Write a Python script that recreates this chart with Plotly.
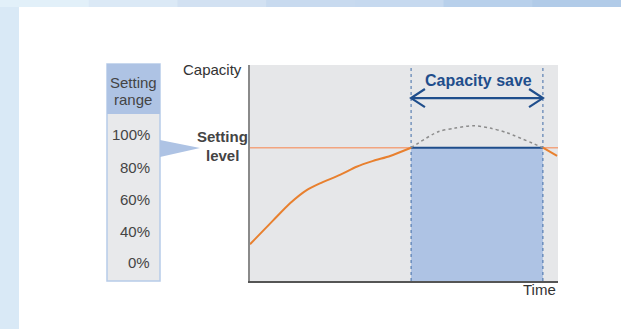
import plotly.graph_objects as go

W, H = 621, 329

# capacity curve before the saving period (time %, capacity %)
time_rise = [0, 7.6, 13, 18.4, 22.7, 29.2, 34.6, 40, 45.5, 52.3]
cap_rise = [17.0, 28.2, 36.0, 42.1, 45.2, 49.1, 52.9, 55.6, 57.9, 61.7]

# demand that would exceed the setting level (dotted)
time_demand = [52.3, 61.1, 66.6, 72.5, 77.9, 83.3, 95.1]
cap_demand = [61.7, 69.1, 70.8, 71.9, 70.8, 68.7, 61.7]

# curve after the saving period
time_tail = [95.1, 99.7]
cap_tail = [61.7, 57.9]

setting_level = 61.7
save_start, save_end = 52.3, 95.1
arrow_level = 84.7

range_labels = ["100%", "80%", "60%", "40%", "0%"]
range_label_y = [134, 167, 199, 231, 262]

FONT = "Liberation Sans, Arial, sans-serif"
DARK_BLUE = "#1f4e8c"
LIGHT_BLUE = "#aec3e4"
# colours of the page header strip, left to right
STRIP_COLORS = ["#e2f0f9", "#dbe9f6", "#d2e1f2", "#c8daef", "#c6d9ef", "#b8d0eb", "#b1cbe8"]


def px(x):
    return x / W


def py(y):
    return 1 - y / H


fig = go.Figure()

fig.add_trace(go.Scatter(
    x=[0, 100], y=[setting_level, setting_level], mode="lines",
    line={"color": "#f2a47f", "width": 1.5}, hoverinfo="skip",
))
fig.add_trace(go.Scatter(
    x=[save_start, save_end], y=[setting_level, setting_level], mode="lines",
    fill="tozeroy", fillcolor=LIGHT_BLUE,
    line={"color": DARK_BLUE, "width": 2}, hoverinfo="skip",
))
for xv in (save_start, save_end):
    fig.add_trace(go.Scatter(
        x=[xv, xv], y=[0, 100], mode="lines",
        line={"color": "#3f6ba8", "width": 1, "dash": "dot"}, hoverinfo="skip",
    ))
fig.add_trace(go.Scatter(
    x=time_demand, y=cap_demand, mode="lines",
    line={"color": "#8c8c8c", "width": 1.5, "dash": "dot", "shape": "spline", "smoothing": 0.8},
    hoverinfo="skip",
))
fig.add_trace(go.Scatter(
    x=time_rise, y=cap_rise, mode="lines",
    line={"color": "#e8802f", "width": 2, "shape": "spline", "smoothing": 0.6},
    hoverinfo="skip",
))
fig.add_trace(go.Scatter(
    x=time_tail, y=cap_tail, mode="lines",
    line={"color": "#e8802f", "width": 2}, hoverinfo="skip",
))

# double-headed arrow for the saving period
head_dx, head_dy = 4.5, 4.2
fig.add_trace(go.Scatter(
    x=[save_start, save_end], y=[arrow_level, arrow_level], mode="lines",
    line={"color": DARK_BLUE, "width": 2.2}, hoverinfo="skip",
))
fig.add_trace(go.Scatter(
    x=[save_start + head_dx, save_start, save_start + head_dx, None,
       save_end - head_dx, save_end, save_end - head_dx],
    y=[arrow_level + head_dy, arrow_level, arrow_level - head_dy, None,
       arrow_level + head_dy, arrow_level, arrow_level - head_dy],
    mode="lines", line={"color": DARK_BLUE, "width": 2.2}, hoverinfo="skip",
))

shapes = []
seg = 1 / len(STRIP_COLORS)
for i, col in enumerate(STRIP_COLORS):
    shapes.append({"type": "rect", "xref": "paper", "yref": "paper",
                   "x0": i * seg, "x1": (i + 1) * seg + 0.002, "y0": py(7), "y1": 1,
                   "fillcolor": col, "line": {"width": 0}})
shapes += [
    {"type": "rect", "xref": "paper", "yref": "paper", "x0": 0, "x1": px(19), "y0": 0, "y1": py(7),
     "fillcolor": "#d9e9f6", "line": {"width": 0}},
    # setting range box
    {"type": "rect", "xref": "paper", "yref": "paper", "x0": px(107), "x1": px(160),
     "y0": py(281), "y1": py(64), "fillcolor": "#e8e9eb",
     "line": {"color": "#b7cbe9", "width": 1.5}},
    {"type": "rect", "xref": "paper", "yref": "paper", "x0": px(107), "x1": px(160),
     "y0": py(114), "y1": py(64), "fillcolor": LIGHT_BLUE, "line": {"width": 0}},
    {"type": "path", "xref": "paper", "yref": "paper",
     "path": f"M {px(160)},{py(140)} L {px(200)},{py(148)} L {px(160)},{py(157)} Z",
     "fillcolor": LIGHT_BLUE, "line": {"width": 0}},
]

annotations = [
    {"text": "Capacity", "x": px(212), "y": py(69), "font": {"size": 15, "color": "#333333"}},
    {"text": "Setting", "x": px(133), "y": py(82), "font": {"size": 15, "color": "#444444"}},
    {"text": "range", "x": px(133), "y": py(100), "font": {"size": 15, "color": "#444444"}},
    {"text": "<b>Setting</b>", "x": px(222), "y": py(137), "font": {"size": 15, "color": "#444444"}},
    {"text": "<b>level</b>", "x": px(222), "y": py(155), "font": {"size": 15, "color": "#444444"}},
    {"text": "<b>Capacity save</b>", "x": px(478), "y": py(80), "font": {"size": 16, "color": DARK_BLUE}},
    {"text": "Time", "x": px(539), "y": py(289), "font": {"size": 15, "color": "#333333"}},
]
for label, yv in zip(range_labels, range_label_y):
    annotations.append({"text": label, "x": px(152), "y": py(yv), "xanchor": "right",
                        "font": {"size": 15, "color": "#444444"}})
for a in annotations:
    a.update({"xref": "paper", "yref": "paper", "showarrow": False})
    a.setdefault("xanchor", "center")
    a["yanchor"] = "middle"

fig.update_layout(
    width=W, height=H,
    margin={"l": 0, "r": 0, "t": 0, "b": 0},
    paper_bgcolor="white",
    plot_bgcolor="#e6e7e9",
    showlegend=False,
    font={"family": FONT},
    shapes=shapes,
    annotations=annotations,
    xaxis={"domain": [px(250), px(558)], "range": [0, 100], "showgrid": False,
           "zeroline": False, "showticklabels": False, "ticks": "",
           "showline": True, "linecolor": "#555555", "linewidth": 1.5, "fixedrange": True},
    yaxis={"domain": [py(281), py(65)], "range": [0, 100], "showgrid": False,
           "zeroline": False, "showticklabels": False, "ticks": "",
           "showline": True, "linecolor": "#8a8a8a", "linewidth": 2, "fixedrange": True},
)

fig.write_html(
    "out.html",
    config={"displayModeBar": False},
    post_script="document.body.style.margin='0';document.body.style.overflow='hidden';",
)
